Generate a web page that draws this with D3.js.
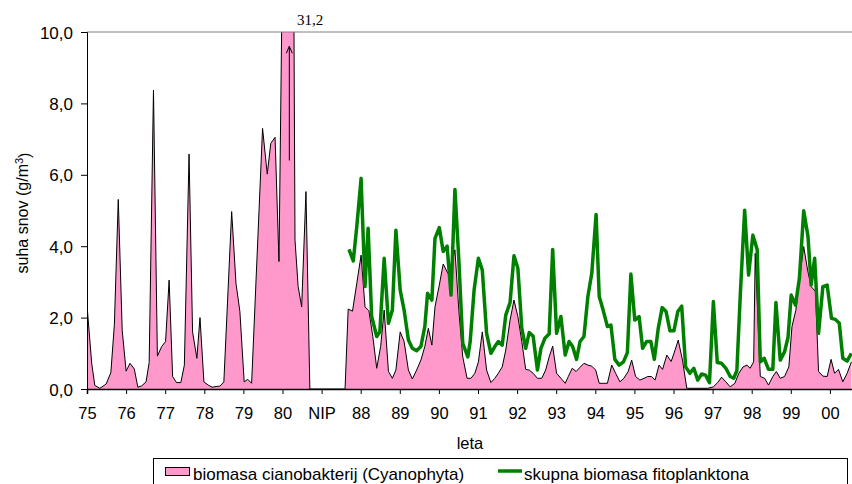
<!DOCTYPE html>
<html>
<head>
<meta charset="utf-8">
<script src="https://cdn.jsdelivr.net/npm/d3@7"></script>
<style>
  body { margin: 0; background: #fff; }
  text { font-family: "Liberation Sans", Arial, sans-serif; }
</style>
</head>
<body>
<div id="chart"></div>
<script>
// Chart size and plot area
var width = 852;
var height = 484;
var margin = { top: 32, right: -17, bottom: 95, left: 87 };

// Category labels on the x axis (one per year slot)
var yearLabels = ["75", "76", "77", "78", "79", "80", "NIP", "88", "89", "90",
  "91", "92", "93", "94", "95", "96", "97", "98", "99", "00"];

// Y axis ticks
var yTicks = [0, 2, 4, 6, 8, 10];

// Cyanobacteria biomass: [position on year axis, g/m3]
var cyano = [
  [0.00, 2.35], [0.12, 0.72], [0.20, 0.10], [0.33, 0.02], [0.49, 0.14], [0.61, 0.46],
  [0.70, 1.80], [0.80, 5.31], [0.90, 1.65], [1.00, 0.50], [1.10, 0.72], [1.21, 0.56],
  [1.30, 0.05], [1.40, 0.09], [1.51, 0.20], [1.59, 0.74], [1.70, 8.37], [1.80, 0.92],
  [1.91, 1.19], [2.01, 1.33], [2.10, 3.05], [2.19, 0.35], [2.29, 0.18], [2.40, 0.18],
  [2.49, 0.67], [2.61, 6.58], [2.70, 1.60], [2.81, 0.86], [2.89, 2.00], [2.99, 0.20],
  [3.10, 0.11], [3.20, 0.05], [3.30, 0.07], [3.40, 0.08], [3.50, 0.20], [3.70, 4.97],
  [3.81, 2.96], [3.91, 2.17], [4.02, 0.20], [4.11, 0.27], [4.21, 0.16], [4.49, 7.30],
  [4.61, 6.02], [4.70, 6.88], [4.81, 7.05], [4.91, 3.57], [5.20, 31.2], [5.32, 4.17],
  [5.40, 2.87], [5.49, 2.30], [5.60, 5.53], [5.70, 0.00], [5.90, 0.00], [6.10, 0.00],
  [6.30, 0.00], [6.50, 0.00], [6.60, 0.00],
  [6.68, 2.24], [6.79, 2.18], [6.90, 2.96], [7.01, 3.75], [7.11, 2.30], [7.21, 2.19],
  [7.31, 1.47], [7.41, 0.58], [7.51, 1.19], [7.60, 2.21], [7.71, 0.49], [7.81, 0.30],
  [7.90, 0.53], [8.01, 1.60], [8.11, 1.33], [8.22, 0.53], [8.32, 0.28], [8.43, 0.53],
  [8.54, 0.81], [8.64, 1.19], [8.73, 1.70], [8.82, 1.23], [8.90, 2.30], [9.01, 2.91],
  [9.11, 3.50], [9.23, 3.24], [9.31, 3.40], [9.41, 3.90], [9.51, 2.20], [9.61, 0.90],
  [9.72, 0.30], [9.82, 0.30], [9.92, 0.44], [10.01, 0.76], [10.11, 1.60], [10.22, 0.53],
  [10.33, 0.18], [10.43, 0.30], [10.52, 0.44], [10.62, 0.62], [10.71, 1.09], [10.82, 1.93],
  [10.92, 2.49], [11.02, 2.03], [11.12, 1.33], [11.22, 0.55], [11.31, 0.53], [11.41, 0.44],
  [11.52, 0.30], [11.63, 0.30], [11.73, 0.53], [11.82, 0.90], [11.91, 1.20], [12.01, 0.44],
  [12.12, 0.30], [12.23, 0.16], [12.31, 0.35], [12.41, 0.58], [12.51, 0.49], [12.61, 0.61],
  [12.71, 0.72], [12.81, 0.67], [12.91, 0.64], [13.01, 0.53], [13.10, 0.16], [13.20, 0.16],
  [13.31, 0.16], [13.42, 0.67], [13.52, 0.44], [13.63, 0.20], [13.73, 0.30], [13.84, 0.49],
  [13.93, 0.81], [14.03, 0.35], [14.14, 0.25], [14.25, 0.30], [14.34, 0.35], [14.44, 0.35],
  [14.53, 0.25], [14.63, 0.67], [14.72, 0.55], [14.83, 0.95], [14.94, 0.77], [15.04, 1.09],
  [15.12, 1.37], [15.23, 0.81], [15.34, 0.02], [15.45, 0.02], [15.55, 0.02], [15.65, 0.02],
  [15.75, 0.02], [15.87, 0.02], [16.02, 0.06], [16.13, 0.18], [16.23, 0.33], [16.34, 0.20],
  [16.45, 0.06], [16.57, 0.16], [16.67, 0.44], [16.78, 0.62], [16.88, 0.67], [16.96, 0.58],
  [17.05, 0.76], [17.09, 3.80], [17.22, 0.35], [17.33, 0.30], [17.43, 0.11], [17.54, 0.35],
  [17.63, 0.49], [17.73, 0.30], [17.84, 0.35], [17.95, 0.62], [18.03, 1.75], [18.13, 2.21],
  [18.23, 3.15], [18.33, 3.99], [18.43, 3.33], [18.52, 2.87], [18.63, 2.73], [18.71, 0.49],
  [18.82, 0.36], [18.93, 0.35], [19.03, 0.83], [19.12, 0.44], [19.22, 0.55], [19.33, 0.20],
  [19.44, 0.44], [19.55, 0.76]
];

// Total phytoplankton biomass: [position on year axis, g/m3]
var total = [
  [6.70, 3.91], [6.81, 3.59], [6.90, 4.55], [7.01, 5.90], [7.11, 2.87], [7.19, 4.50],
  [7.28, 2.03], [7.41, 1.47], [7.49, 1.60], [7.60, 3.66], [7.71, 1.84], [7.81, 2.21],
  [7.90, 4.45], [8.01, 2.77], [8.11, 2.21], [8.22, 1.37], [8.32, 1.14], [8.43, 1.07],
  [8.54, 1.19], [8.64, 1.75], [8.71, 2.68], [8.82, 2.49], [8.90, 4.22], [9.01, 4.52],
  [9.11, 3.85], [9.21, 4.00], [9.31, 2.63], [9.41, 5.59], [9.51, 3.61], [9.61, 1.28],
  [9.74, 0.90], [9.80, 1.33], [9.90, 2.77], [10.01, 3.66], [10.11, 3.33], [10.22, 1.56],
  [10.33, 1.00], [10.43, 1.19], [10.52, 1.33], [10.62, 1.23], [10.71, 2.07], [10.82, 2.42],
  [10.92, 3.73], [11.02, 3.38], [11.12, 1.70], [11.22, 1.14], [11.31, 1.58], [11.41, 1.48],
  [11.52, 0.53], [11.61, 1.14], [11.71, 1.42], [11.82, 1.54], [11.91, 3.91], [12.01, 1.56],
  [12.12, 2.03], [12.23, 0.95], [12.33, 1.33], [12.42, 1.19], [12.52, 0.83], [12.61, 1.33],
  [12.71, 1.47], [12.81, 2.59], [12.91, 3.24], [13.02, 4.89], [13.10, 2.59], [13.20, 2.21],
  [13.31, 1.75], [13.40, 1.79], [13.50, 0.83], [13.61, 0.67], [13.72, 0.76], [13.82, 1.02],
  [13.91, 3.22], [14.01, 1.93], [14.12, 2.03], [14.21, 1.14], [14.31, 1.33], [14.42, 1.33],
  [14.51, 0.83], [14.61, 1.70], [14.71, 2.28], [14.81, 2.17], [14.91, 1.63], [15.01, 1.63],
  [15.11, 2.17], [15.21, 2.32], [15.31, 0.62], [15.42, 0.44], [15.52, 0.58], [15.62, 0.25],
  [15.72, 0.42], [15.82, 0.39], [15.92, 0.18], [16.02, 2.45], [16.12, 0.74], [16.23, 0.72],
  [16.34, 0.58], [16.45, 0.35], [16.54, 0.30], [16.62, 0.51], [16.71, 2.68], [16.82, 5.01],
  [16.92, 3.19], [17.03, 4.31], [17.14, 3.91], [17.22, 0.76], [17.32, 0.86], [17.43, 0.55],
  [17.54, 0.55], [17.62, 2.42], [17.73, 0.81], [17.84, 1.04], [17.93, 1.45], [18.01, 2.63],
  [18.12, 2.35], [18.22, 3.10], [18.33, 4.99], [18.44, 4.27], [18.52, 2.91], [18.61, 3.66],
  [18.71, 1.56], [18.82, 2.87], [18.93, 2.91], [19.04, 1.98], [19.14, 1.95], [19.24, 1.84],
  [19.33, 0.86], [19.44, 0.78], [19.55, 1.00]
];

var seriesNames = ["biomasa cianobakterij (Cyanophyta)", "skupna biomasa fitoplanktona"];
var pink = "#FF99CC";
var green = "#008000";

var svg = d3.select("#chart")
  .append("svg")
  .attr("width", width)
  .attr("height", height);

// Scales (x runs one slot past "00", the right side is cut by the frame)
var xScale = d3.scaleLinear()
  .domain([0, 20])
  .range([margin.left, width - margin.right]);

var yScale = d3.scaleLinear()
  .domain([0, 10])
  .range([height - margin.bottom, margin.top]);

function fmt(v) { return d3.format(".1f")(v).replace(".", ","); }

// Clip the plot area so the big peak is cut at 10
svg.append("clipPath")
  .attr("id", "plotclip")
  .append("rect")
  .attr("x", margin.left)
  .attr("y", margin.top)
  .attr("width", xScale(20) - margin.left)
  .attr("height", yScale(0) - margin.top);

var plot = svg.append("g").attr("clip-path", "url(#plotclip)");

// Plot frame (top edge)
svg.append("line")
  .attr("x1", margin.left).attr("x2", width)
  .attr("y1", margin.top).attr("y2", margin.top)
  .attr("stroke", "#808080").attr("stroke-width", 1);

// Cyanobacteria area
var area = d3.area()
  .x(function (d) { return xScale(d[0]); })
  .y0(yScale(0))
  .y1(function (d) { return yScale(d[1]); });

var outline = d3.line()
  .x(function (d) { return xScale(d[0]); })
  .y(function (d) { return yScale(d[1]); });

plot.append("path")
  .datum(cyano)
  .attr("fill", pink)
  .attr("d", area);

plot.append("path")
  .datum(cyano)
  .attr("fill", "none")
  .attr("stroke", "#000")
  .attr("stroke-width", 1)
  .attr("d", outline);

// Total phytoplankton line
plot.append("path")
  .datum(total)
  .attr("fill", "none")
  .attr("stroke", green)
  .attr("stroke-width", 3.5)
  .attr("stroke-linejoin", "round")
  .attr("d", outline);

// Y axis
var yAxis = svg.append("g")
  .attr("transform", "translate(" + margin.left + ",0)")
  .call(d3.axisLeft(yScale).tickValues(yTicks).tickFormat(fmt).tickSizeOuter(0).tickSize(6).tickPadding(8));
yAxis.select(".domain").attr("stroke", "#000");
yAxis.selectAll("text")
  .style("font-size", "17px")
  .style("fill", "#000")
  .attr("dy", "0.36em");

// X axis
var xAxis = svg.append("g")
  .attr("transform", "translate(0," + yScale(0) + ")")
  .call(d3.axisBottom(xScale)
    .tickValues(d3.range(yearLabels.length))
    .tickFormat(function (d) { return yearLabels[d]; })
    .tickSizeOuter(0).tickSize(5).tickPadding(13));
xAxis.select(".domain").attr("stroke", "#000").attr("stroke-width", 1.5);
xAxis.selectAll("text")
  .style("font-size", "16.5px")
  .style("fill", "#000");

// Axis titles
svg.append("text")
  .attr("x", 470)
  .attr("y", 449)
  .attr("text-anchor", "middle")
  .style("font-size", "16.5px")
  .text("leta");

var yTitle = svg.append("text")
  .attr("transform", "translate(28,213) rotate(-90)")
  .attr("text-anchor", "middle")
  .style("font-size", "16px");
yTitle.append("tspan").text("suha snov (g/m");
yTitle.append("tspan").attr("dy", "-0.45em").style("font-size", "11px").text("3");
yTitle.append("tspan").attr("dy", "0.45em").text(")");

// Off-scale peak: arrow and value
var peak = cyano.reduce(function (a, b) { return b[1] > a[1] ? b : a; });
var ax = xScale(peak[0]) - 1;
svg.append("line")
  .attr("x1", ax).attr("x2", ax)
  .attr("y1", yScale(6.4)).attr("y2", yScale(9.6))
  .attr("stroke", "#000").attr("stroke-width", 1);
svg.append("path")
  .attr("d", "M" + (ax - 3) + "," + (yScale(9.6) + 7) + "L" + ax + "," + yScale(9.6) + "L" + (ax + 3) + "," + (yScale(9.6) + 7))
  .attr("fill", "none").attr("stroke", "#000").attr("stroke-width", 1);
svg.append("text")
  .attr("x", 310)
  .attr("y", 25)
  .attr("text-anchor", "middle")
  .style("font-family", "'Liberation Serif', 'Times New Roman', serif")
  .style("font-size", "15px")
  .text(fmt(peak[1]));

// Legend
var legend = svg.append("g");
legend.append("rect")
  .attr("x", 153.5).attr("y", 458.5)
  .attr("width", 694).attr("height", 40)
  .attr("fill", "#fff").attr("stroke", "#000").attr("stroke-width", 1);
legend.append("rect")
  .attr("x", 165.5).attr("y", 467.5)
  .attr("width", 24).attr("height", 8)
  .attr("fill", pink).attr("stroke", "#000").attr("stroke-width", 1);
legend.append("text")
  .attr("x", 193).attr("y", 479.5)
  .style("font-size", "17px")
  .text(seriesNames[0]);
legend.append("line")
  .attr("x1", 498).attr("x2", 522)
  .attr("y1", 471).attr("y2", 471)
  .attr("stroke", green).attr("stroke-width", 3.5);
legend.append("text")
  .attr("x", 524).attr("y", 479.5)
  .style("font-size", "17px")
  .text(seriesNames[1]);
</script>
</body>
</html>
